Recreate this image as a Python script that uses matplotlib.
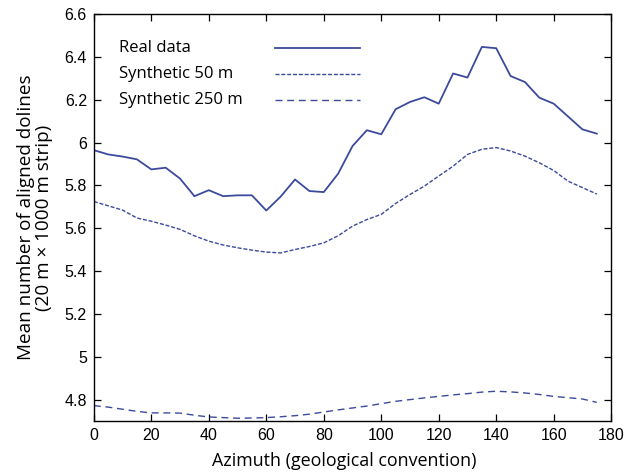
import numpy as np
import matplotlib
matplotlib.use("Agg")
import matplotlib.pyplot as plt
from matplotlib.lines import Line2D

# azimuth (degrees)
azimuth = list(range(0, 180, 5))

real_data = [5.965, 5.945, 5.935, 5.922, 5.875, 5.883, 5.832, 5.750, 5.778, 5.750,
             5.754, 5.754, 5.683, 5.748, 5.828, 5.774, 5.769, 5.855, 5.984, 6.058,
             6.039, 6.156, 6.190, 6.212, 6.182, 6.323, 6.304, 6.447, 6.441, 6.311,
             6.283, 6.210, 6.182, 6.122, 6.062, 6.042]

synth_50 = [5.725, 5.705, 5.685, 5.648, 5.633, 5.615, 5.595, 5.565, 5.540, 5.522,
            5.509, 5.498, 5.489, 5.485, 5.501, 5.515, 5.532, 5.565, 5.610, 5.641,
            5.665, 5.716, 5.758, 5.797, 5.844, 5.890, 5.945, 5.969, 5.977, 5.961,
            5.937, 5.906, 5.870, 5.820, 5.790, 5.760]

synth_250 = [4.772, 4.765, 4.755, 4.745, 4.738, 4.738, 4.737, 4.727, 4.719, 4.716,
             4.713, 4.714, 4.716, 4.720, 4.725, 4.732, 4.742, 4.752, 4.761, 4.770,
             4.781, 4.792, 4.800, 4.808, 4.815, 4.822, 4.828, 4.835, 4.839, 4.836,
             4.831, 4.824, 4.815, 4.809, 4.803, 4.787]

labels = ["Real data", "Synthetic 50 m", "Synthetic 250 m"]
colour = "#3b4a9c"

plt.rcParams['font.family'] = ['Liberation Sans', 'DejaVu Sans']

fig = plt.figure(figsize=(6.34, 4.72), dpi=100)
ax = fig.add_axes([0.148, 0.108, 0.816, 0.862])

styles = [dict(lw=1.3, ls='-'),
          dict(lw=1.0, ls=(0, (2.9, 1.3))),
          dict(lw=1.0, ls=(0, (5, 3.4)))]

for ys, st in zip([real_data, synth_50, synth_250], styles):
    ax.plot(azimuth, ys, color=colour, **st)

ax.set_xlim(0, 180)
ax.set_ylim(4.7, 6.6)
ax.set_xticks(np.arange(0, 181, 20))
ax.set_yticks(np.arange(4.8, 6.61, 0.2))
ax.set_yticklabels(["4.8", "5", "5.2", "5.4", "5.6", "5.8", "6", "6.2", "6.4", "6.6"])
ax.tick_params(direction='in', top=True, right=True, length=5, width=0.9,
               labelsize=11.5, pad=5)
for sp in ax.spines.values():
    sp.set_linewidth(1.0)

fam = ['Open Sans', 'DejaVu Sans']
ax.set_xlabel("Azimuth (geological convention)", family=fam, size=12.9)
ax.xaxis.set_label_coords(0.484, -0.075)
ax.set_ylabel("Mean number of aligned dolines\n(20 m \u00d7 1000 m strip)",
              family=fam, size=13.6, labelpad=8, linespacing=1.05)

# legend: text left, line sample to the right
rows_y = [0.917, 0.853, 0.789]
for lab, st, yy in zip(labels, styles, rows_y):
    ax.text(0.049, yy, lab, transform=ax.transAxes, va='center', ha='left',
            family=fam, size=12)
    ax.add_line(Line2D([0.350, 0.514], [yy, yy], transform=ax.transAxes,
                       color=colour, **st))

fig.savefig("out.png", dpi=100)
